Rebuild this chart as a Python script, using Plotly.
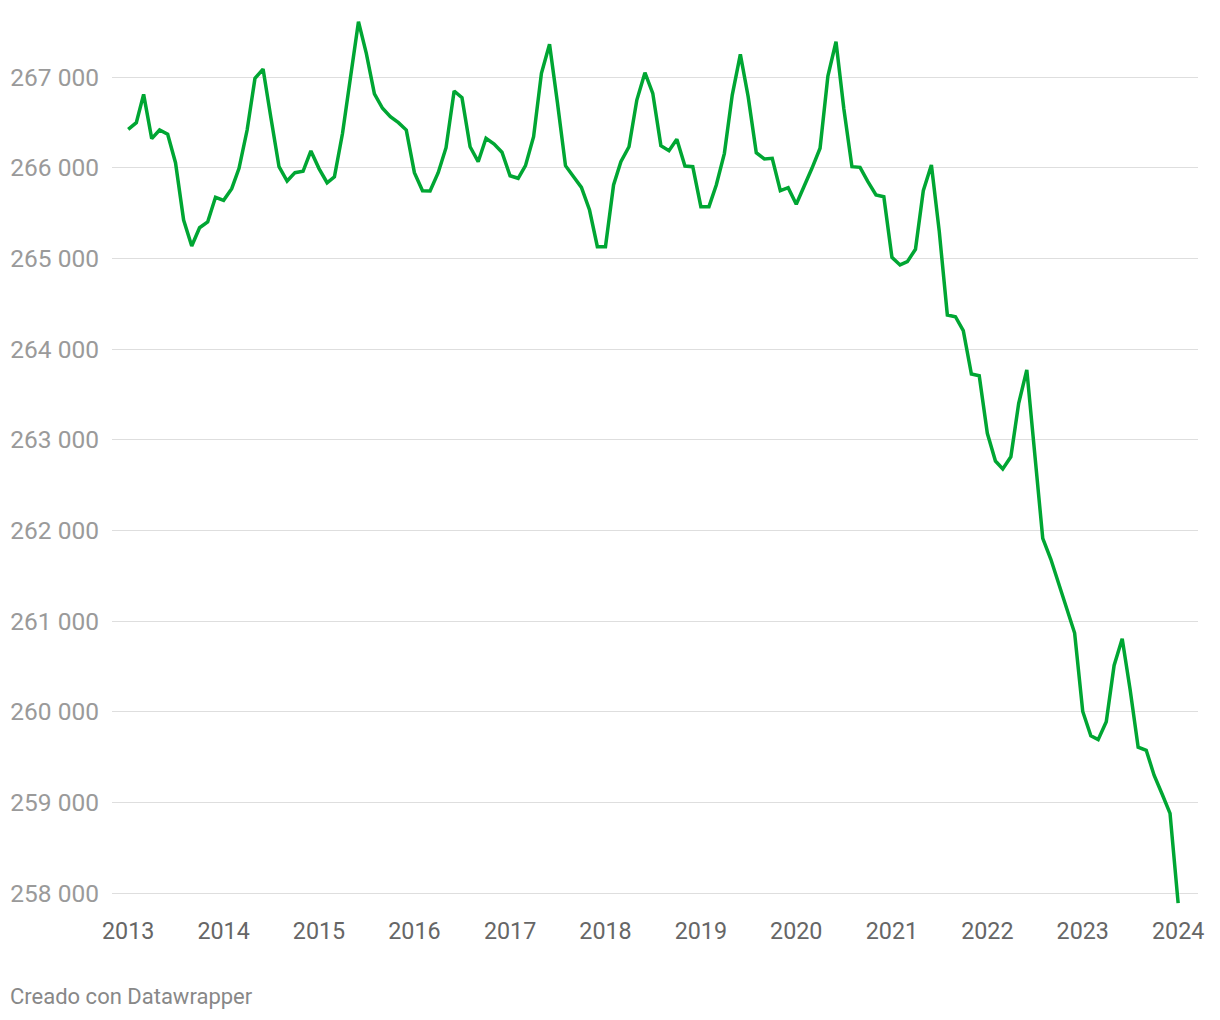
import pandas as pd
import plotly.graph_objects as go

# Monthly values, Jan 2013 .. Jan 2024
start_month = "2013-01-01"
values_2013 = [266423, 266496, 266809, 266320, 266415, 266368, 266055, 265423, 265136, 265338, 265401, 265673]
values_2014 = [265640, 265768, 265993, 266415, 266985, 267088, 266551, 266011, 265853, 265945, 265960, 266184]
values_2015 = [265990, 265834, 265900, 266379, 266985, 267610, 267261, 266813, 266655, 266562, 266496, 266415]
values_2016 = [265945, 265746, 265743, 265945, 266220, 266846, 266772, 266231, 266066, 266324, 266261, 266170]
values_2017 = [265911, 265883, 266022, 266342, 267040, 267361, 266721, 266022, 265900, 265783, 265533, 265129]
values_2018 = [265129, 265809, 266066, 266231, 266746, 267047, 266820, 266243, 266187, 266313, 266018, 266011]
values_2019 = [265570, 265570, 265809, 266158, 266801, 267250, 266783, 266165, 266096, 266103, 265746, 265779]
values_2020 = [265596, 265790, 265993, 266214, 267011, 267389, 266650, 266011, 266004, 265846, 265699, 265680]
values_2021 = [265011, 264927, 264963, 265100, 265746, 266030, 265300, 264375, 264356, 264202, 263724, 263706]
values_2022 = [263070, 262765, 262677, 262812, 263401, 263770, 262900, 261912, 261681, 261407, 261133, 260868]
values_2023 = [260003, 259734, 259692, 259890, 260510, 260804, 260250, 259608, 259574, 259300, 259089, 258878]
values_2024 = [257888]

year_ticks = [f"{y}-01-01" for y in range(2013, 2025)]
year_labels = [str(y) for y in range(2013, 2025)]
y_ticks = list(range(258000, 268000, 1000))

values = (values_2013 + values_2014 + values_2015 + values_2016 + values_2017 + values_2018
          + values_2019 + values_2020 + values_2021 + values_2022 + values_2023 + values_2024)
dates = pd.date_range(start_month, periods=len(values), freq="MS")

GREEN = "#00a633"
GRID = "#dedede"

fig = go.Figure()
fig.add_trace(go.Scatter(
    x=dates,
    y=values,
    mode="lines",
    line=dict(color=GREEN, width=3.5),
    cliponaxis=False,
    hoverinfo="x+y",
))

fig.update_xaxes(
    range=["2012-10-31", "2024-03-17"],
    tickvals=year_ticks,
    ticktext=year_labels,
    showgrid=False,
    zeroline=False,
    showline=False,
    ticks="",
    ticklabelstandoff=5,
    tickfont=dict(family="Roboto", size=23.3, color="#666666"),
)
fig.update_yaxes(
    range=[257813, 267739],
    tickvals=y_ticks,
    tickformat=",d",
    showgrid=True,
    gridcolor=GRID,
    gridwidth=1.2,
    zeroline=False,
    showline=False,
    ticks="",
    ticklabelstandoff=12,
    tickfont=dict(family="Roboto", size=24.5, color="#9a9a9a"),
)

# page body has an 8px margin, so the figure is sized/offset to land on the same pixels
fig.add_annotation(
    text="Creado con Datawrapper",
    xref="paper", yref="paper",
    x=-0.0956, y=-0.0956,
    xanchor="left", yanchor="middle",
    showarrow=False,
    font=dict(family="Roboto", size=22, color="#888888"),
)

fig.update_layout(
    width=1212,
    height=1012,
    margin=dict(l=102, r=22, t=2, b=110),
    paper_bgcolor="white",
    plot_bgcolor="white",
    showlegend=False,
    separators=". ",
)

fig.write_html("out.html")
